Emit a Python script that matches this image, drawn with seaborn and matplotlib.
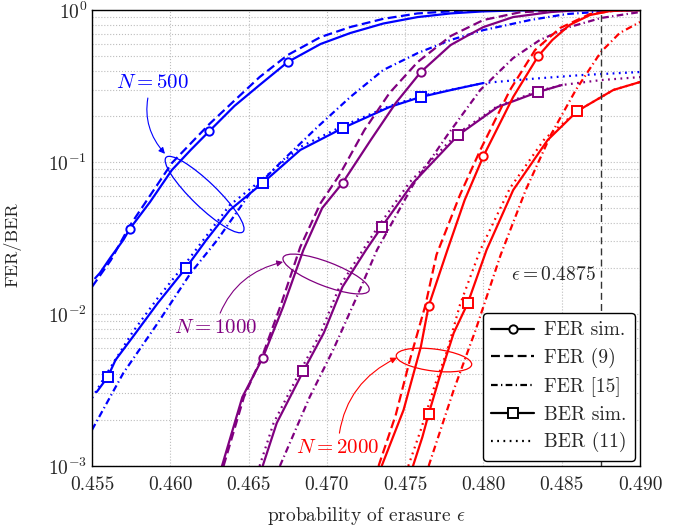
import matplotlib
matplotlib.use('Agg')
import matplotlib.pyplot as plt
import seaborn as sns
from matplotlib.lines import Line2D
from matplotlib.patches import Ellipse
from matplotlib.ticker import FormatStrFormatter, LogLocator, NullFormatter
from matplotlib.transforms import ScaledTranslation

# N = 500 (blue)
n500_fer_sim_eps = [0.4552, 0.4555, 0.4562, 0.4570, 0.4574, 0.4587, 0.4601, 0.4613, 0.4625,
                    0.4641, 0.4657, 0.4675, 0.4696, 0.4715, 0.4736, 0.4758, 0.4779, 0.4800,
                    0.4823, 0.4850, 0.4900]
n500_fer_sim = [0.0172, 0.0186, 0.0237, 0.0307, 0.0362, 0.0545, 0.0886, 0.120, 0.160,
                0.234, 0.321, 0.455, 0.598, 0.706, 0.815, 0.899, 0.950, 0.980,
                0.995, 1.0, 1.0]
n500_fer_marks = [4, 8, 11]
n500_fer9_eps = [0.4550, 0.4562, 0.4574, 0.4601, 0.4625, 0.4657, 0.4675, 0.4696, 0.4715,
                 0.4736, 0.4758, 0.4785, 0.4811, 0.4900]
n500_fer9 = [0.0151, 0.0226, 0.0379, 0.0985, 0.178, 0.362, 0.506, 0.664, 0.773,
             0.875, 0.950, 0.990, 1.0, 1.0]
n500_fer15_eps = [0.4550, 0.4570, 0.4592, 0.4613, 0.4630, 0.4651, 0.4672, 0.4694, 0.4715,
                  0.4736, 0.4758, 0.4779, 0.4800, 0.4830, 0.4853, 0.4881, 0.4900]
n500_fer15 = [0.00173, 0.00409, 0.00873, 0.0186, 0.0307, 0.0625, 0.103, 0.170, 0.268,
              0.403, 0.521, 0.635, 0.738, 0.860, 0.941, 0.985, 1.0]
n500_ber_sim_eps = [0.4553, 0.4560, 0.4565, 0.4576, 0.4592, 0.4610, 0.4623, 0.4638, 0.4659,
                    0.4683, 0.4710, 0.4740, 0.4760, 0.4782, 0.4800]
n500_ber_sim = [0.00307, 0.00385, 0.00498, 0.00706, 0.0118, 0.0201, 0.0307, 0.0483, 0.0728,
                0.120, 0.167, 0.230, 0.268, 0.302, 0.331]
n500_ber_marks = [1, 5, 8, 10, 12]
n500_ber11_eps = [0.4550, 0.4560, 0.4576, 0.4592, 0.4610, 0.4638, 0.4659, 0.4683, 0.4710,
                  0.4740, 0.4760, 0.4800, 0.4830, 0.4862, 0.4900]
n500_ber11 = [0.0028, 0.00415, 0.00762, 0.01275, 0.0217, 0.0521, 0.0773, 0.1256, 0.1725,
              0.2335, 0.2718, 0.331, 0.352, 0.373, 0.391]

# N = 1000 (violet)
n1000_fer_sim_eps = [0.4633, 0.4646, 0.4659, 0.4672, 0.4685, 0.4697, 0.4710, 0.4728, 0.4744,
                     0.4760, 0.4779, 0.4790, 0.4800, 0.4819, 0.4843, 0.4862, 0.4900]
n1000_fer_sim = [0.0010, 0.00284, 0.00514, 0.0111, 0.0264, 0.0498, 0.0728, 0.1395, 0.2445,
                 0.391, 0.588, 0.680, 0.773, 0.899, 0.970, 1.0, 1.0]
n1000_fer_marks = [2, 6, 9]
n1000_fer9_eps = [0.4634, 0.4647, 0.4659, 0.4671, 0.4683, 0.4696, 0.4708, 0.4724, 0.4740,
                  0.4758, 0.4779, 0.4800, 0.4823, 0.4849, 0.4900]
n1000_fer9 = [0.0010, 0.00284, 0.00537, 0.0118, 0.0276, 0.0537, 0.0821, 0.1625, 0.2845,
              0.455, 0.674, 0.860, 0.965, 1.0, 1.0]
n1000_fer15_eps = [0.4670, 0.4689, 0.4704, 0.4719, 0.4732, 0.4755, 0.4777, 0.4798, 0.4819,
                   0.4836, 0.4855, 0.4875, 0.4900]
n1000_fer15 = [0.0010, 0.00284, 0.0058, 0.0129, 0.0264, 0.0706, 0.1506, 0.298, 0.483,
               0.635, 0.773, 0.886, 0.970]
n1000_ber_sim_eps = [0.4659, 0.4668, 0.4685, 0.4698, 0.4710, 0.4725, 0.4735, 0.4755, 0.4784,
                     0.4809, 0.4835, 0.4850]
n1000_ber_sim = [0.0010, 0.00192, 0.00422, 0.0075, 0.0151, 0.0264, 0.0374, 0.0728, 0.1506,
                 0.230, 0.289, 0.321]
n1000_ber_marks = [2, 6, 8, 10]
n1000_ber11_eps = [0.4657, 0.4666, 0.4683, 0.4696, 0.4708, 0.4723, 0.4733, 0.4753, 0.4783,
                   0.4809, 0.4835, 0.4850, 0.4875, 0.4900]
n1000_ber11 = [0.0010, 0.00192, 0.00422, 0.0075, 0.0151, 0.0264, 0.0379, 0.0739, 0.153,
               0.2335, 0.293, 0.321, 0.346, 0.362]

# N = 2000 (red)
n2000_fer_sim_eps = [0.4735, 0.4749, 0.4760, 0.4765, 0.4777, 0.4788, 0.4800, 0.4819, 0.4835,
                     0.4844, 0.4855, 0.4868, 0.4881, 0.4900]
n2000_fer_sim = [0.0010, 0.00234, 0.00607, 0.0113, 0.0264, 0.0562, 0.1095, 0.268, 0.498,
                 0.635, 0.797, 0.927, 0.985, 1.0]
n2000_fer_marks = [3, 6, 8]
n2000_fer9_eps = [0.4733, 0.4744, 0.4753, 0.4763, 0.4770, 0.4785, 0.4798, 0.4817, 0.4833,
                  0.4849, 0.4868, 0.4887, 0.4900]
n2000_fer9 = [0.0010, 0.00217, 0.00498, 0.0115, 0.0245, 0.0607, 0.120, 0.298, 0.546,
              0.762, 0.941, 1.0, 1.0]
n2000_fer15_eps = [0.4765, 0.4781, 0.4795, 0.4811, 0.4827, 0.4843, 0.4859, 0.4875, 0.4887, 0.4900]
n2000_fer15 = [0.0010, 0.00316, 0.00785, 0.0245, 0.0654, 0.1506, 0.298, 0.529, 0.706, 0.834]
n2000_ber_sim_eps = [0.4755, 0.4761, 0.4765, 0.4772, 0.4781, 0.4790, 0.4802, 0.4819, 0.4841,
                     0.4860, 0.4883, 0.4900]
n2000_ber_sim = [0.0010, 0.00155, 0.0022, 0.00385, 0.0075, 0.0118, 0.0264, 0.0654, 0.1395,
                 0.2166, 0.298, 0.336]
n2000_ber_marks = [2, 5, 9]
n2000_ber11_eps = [0.4752, 0.4760, 0.4769, 0.4777, 0.4785, 0.4798, 0.4817, 0.4839, 0.4860,
                   0.4883, 0.4900]
n2000_ber11 = [0.0010, 0.00173, 0.00341, 0.0058, 0.0115, 0.0264, 0.0675, 0.1417, 0.2166,
               0.298, 0.336]

x_ticks = [0.455, 0.460, 0.465, 0.470, 0.475, 0.480, 0.485, 0.490]
eps_star = 0.4875
legend_labels = ['FER sim.', 'FER (9)', 'FER [15]', 'BER sim.', 'BER (11)']

blue, violet, red = '#0000ff', '#800080', '#ff0000'
DASHED = (0, (4, 2))
DASHDOT = (0, (3, 1.5, 0.6, 1.5))
DOTTED = (0, (0.8, 2))

sns.set_style('white')
plt.rcParams['font.family'] = ['serif']
plt.rcParams['font.serif'] = ['cmr10', 'DejaVu Serif']
plt.rcParams['mathtext.fontset'] = 'cm'
plt.rcParams['axes.formatter.use_mathtext'] = True

fig = plt.figure(figsize=(6.94, 5.31), dpi=100)
ax = fig.add_axes([0.1326, 0.1224, 0.7896, 0.8587])
ax.set_yscale('log')


def draw(eps, vals, color, ls, marker=None, marks=None, ms=6):
    sns.lineplot(x=eps, y=vals, ax=ax, color=color, linestyle=ls, lw=1.6,
                 marker=marker, markevery=marks, markersize=ms,
                 markerfacecolor='white', markeredgecolor=color, markeredgewidth=1.4,
                 estimator=None, sort=False, errorbar=None)


for c, fs_e, fs, fm, f9e, f9, f15e, f15, bse, bs, bm, b11e, b11 in [
    (blue, n500_fer_sim_eps, n500_fer_sim, n500_fer_marks, n500_fer9_eps, n500_fer9,
     n500_fer15_eps, n500_fer15, n500_ber_sim_eps, n500_ber_sim, n500_ber_marks,
     n500_ber11_eps, n500_ber11),
    (violet, n1000_fer_sim_eps, n1000_fer_sim, n1000_fer_marks, n1000_fer9_eps, n1000_fer9,
     n1000_fer15_eps, n1000_fer15, n1000_ber_sim_eps, n1000_ber_sim, n1000_ber_marks,
     n1000_ber11_eps, n1000_ber11),
    (red, n2000_fer_sim_eps, n2000_fer_sim, n2000_fer_marks, n2000_fer9_eps, n2000_fer9,
     n2000_fer15_eps, n2000_fer15, n2000_ber_sim_eps, n2000_ber_sim, n2000_ber_marks,
     n2000_ber11_eps, n2000_ber11),
]:
    draw(f9e, f9, c, DASHED)
    draw(f15e, f15, c, DASHDOT)
    draw(b11e, b11, c, DOTTED)
    draw(fs_e, fs, c, '-', 'o', fm, 6)
    draw(bse, bs, c, '-', 's', bm, 6.5)

ax.axvline(eps_star, color='#333333', ls=(0, (5, 3)), lw=1)
ax.text(eps_star - 0.0003, 0.0181, r'$\epsilon = 0.4875$', ha='right', va='center', fontsize=14)

ax.set_xlim(0.455, 0.490)
ax.set_ylim(1e-3, 1)
ax.set_xticks(x_ticks)
ax.xaxis.set_major_formatter(FormatStrFormatter('%.3f'))
ax.yaxis.set_major_locator(LogLocator(base=10, numticks=10))
ax.yaxis.set_minor_locator(LogLocator(base=10, subs=range(2, 10), numticks=10))
ax.yaxis.set_minor_formatter(NullFormatter())
ax.tick_params(which='both', direction='in', top=False, right=False, labelsize=14)
ax.tick_params(axis='x', pad=7)
ax.tick_params(which='major', length=5, width=0.8)
ax.tick_params(which='minor', length=4, width=0.6)
ax.grid(True, which='major', ls=':', color='#bdbdbd', lw=0.8)
ax.grid(True, which='minor', axis='y', ls=':', color='#bdbdbd', lw=0.8)
for s in ax.spines.values():
    s.set_color('black')
    s.set_linewidth(1.0)

ax.set_xlabel(r'probability of erasure $\epsilon$', fontsize=14)
ax.set_ylabel('FER/BER', fontsize=13)
ax.xaxis.set_label_coords(0.5, -0.085)
ax.yaxis.set_label_coords(-0.128, 0.485)

# ellipses around curve groups, size in inches, centre in data units
for (ex, ey), w, h, a, c in [((0.46219, 0.0611), 1.07, 0.25, -44, blue),
                             ((0.46995, 0.01833), 0.92, 0.24, -21, violet),
                             ((0.47684, 0.00498), 0.76, 0.22, -7, red)]:
    ax.add_patch(Ellipse((0, 0), w, h, angle=a, fill=False, edgecolor=c, lw=0.9,
                         transform=fig.dpi_scale_trans + ScaledTranslation(ex, ey, ax.transData)))

for txt, (tx, ty), (px, py), c, rad in [(r'$N = 500$', (0.45883, 0.331), (0.45966, 0.1132), blue, 0.3),
                                        (r'$N = 1000$', (0.46286, 0.00809), (0.46720, 0.0220), violet, -0.3),
                                        (r'$N = 2000$', (0.47071, 0.00131), (0.47448, 0.00516), red, -0.3)]:
    ax.annotate(txt, xy=(px, py), xytext=(tx, ty), color=c, fontsize=15, ha='center', va='center',
                arrowprops=dict(arrowstyle='-|>', color=c, lw=0.8, mutation_scale=9,
                                shrinkA=2, shrinkB=0, connectionstyle=f'arc3,rad={rad}'))

handles = [Line2D([], [], color='black', lw=1.6, marker='o', ms=6, mfc='white', mew=1.4),
           Line2D([], [], color='black', lw=1.6, ls=DASHED),
           Line2D([], [], color='black', lw=1.6, ls=DASHDOT),
           Line2D([], [], color='black', lw=1.6, marker='s', ms=6.5, mfc='white', mew=1.4),
           Line2D([], [], color='black', lw=1.6, ls=DOTTED)]
leg = ax.legend(handles, legend_labels, loc='lower right', fontsize=14, frameon=True, fancybox=True,
                framealpha=1, edgecolor='black', handlelength=2.2, labelspacing=0.45,
                borderaxespad=0.25, handletextpad=0.5, borderpad=0.45)
leg.get_frame().set_linewidth(1.0)

fig.savefig('out.png', dpi=100)
